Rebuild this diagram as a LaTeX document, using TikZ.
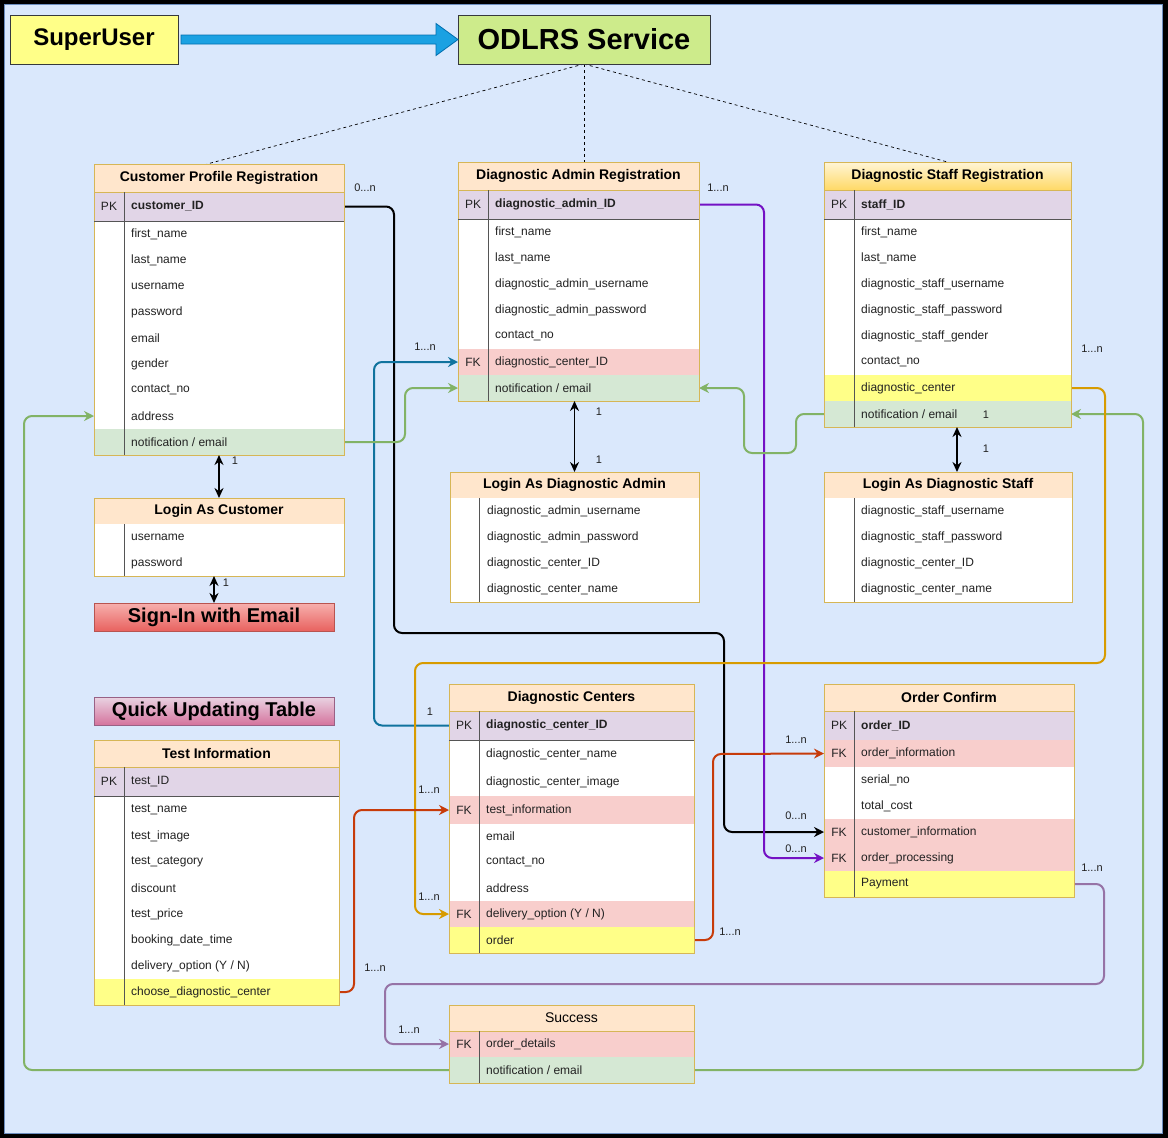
\documentclass[tikz,border=0pt]{standalone}
\usepackage{fontspec}
\setmainfont{Liberation Sans}
\usetikzlibrary{arrows.meta,calc}
\definecolor{bgblue}{HTML}{DAE8FC}
\definecolor{bgborder}{HTML}{6C8EBF}
\definecolor{ttlfill}{HTML}{FFE6CC}
\definecolor{tbcol}{HTML}{D6B656}
\definecolor{pkfill}{HTML}{E1D5E7}
\definecolor{fkfill}{HTML}{F8CECC}
\definecolor{grfill}{HTML}{D5E8D4}
\definecolor{yefill}{HTML}{FFFF88}
\definecolor{odfill}{HTML}{CDEB8B}
\definecolor{boxline}{HTML}{36393D}
\definecolor{cgreen}{HTML}{82B366}
\definecolor{cblue}{HTML}{10739E}
\definecolor{cpurple}{HTML}{7412C4}
\definecolor{corange}{HTML}{D79B00}
\definecolor{cred}{HTML}{C73B0A}
\definecolor{cmauve}{HTML}{9673A6}
\definecolor{bigblue}{HTML}{1BA1E2}
\definecolor{bigblueline}{HTML}{006EAF}
\definecolor{txtcol}{HTML}{222222}
\definecolor{divcol}{HTML}{555555}
\definecolor{sttop}{HTML}{FFF5D6}
\definecolor{stbot}{HTML}{FFD966}
\definecolor{sitop}{HTML}{F6B0AE}
\definecolor{sibot}{HTML}{E8625F}
\definecolor{siline}{HTML}{B85450}
\definecolor{qutop}{HTML}{E9D3E2}
\definecolor{qubot}{HTML}{D5739D}
\definecolor{quline}{HTML}{996185}
\pgfdeclarelayer{bg}
\pgfdeclarelayer{edges}
\pgfsetlayers{bg,edges,main}
\newcommand{\etitle}[7]{%
  \node[rowbox, minimum width=#3-#2, minimum height=#5-#4, font=\bfseries\fontsize{14}{16}\selectfont, #6] (#1) at (#2,#4) {#7};}
\newcommand{\erow}[8]{%
  \node[rowbox, fill=#6, minimum width=#3-#2, minimum height=#5-#4] (#1) at (#2,#4) {};
  \node[keytxt] (#1-k) at ([xshift=15pt]#1.west) {#7};
  \node[fldtxt] (#1-f) at ([xshift=37pt]#1.west) {#8};}
\tikzset{
  rowbox/.style={rectangle, inner sep=0pt, outer sep=0pt, draw=none, anchor=north west},
  keytxt/.style={font=\fontsize{12}{14}\selectfont, text=txtcol, inner sep=0pt},
  fldtxt/.style={font=\fontsize{12}{14}\selectfont, text=txtcol, inner sep=0pt, anchor=west},
  lbl/.style={font=\fontsize{11}{13}\selectfont, text=txtcol, inner sep=0pt},
  tbord/.style={draw=tbcol, line width=0.8pt},
  divl/.style={draw=divcol, line width=1pt},
  sepl/.style={draw=divcol, line width=0.8pt},
  conn/.style={line width=2pt, rounded corners=8pt},
  arr/.style={-{Stealth[length=10pt,width=10pt]}},
  dblarr/.style={{Stealth[length=10pt,width=9pt]}-{Stealth[length=10pt,width=9pt]}, line width=1.7pt, black},
  hbox/.style={rectangle, inner sep=0pt, outer sep=0pt, anchor=north west, font=\bfseries},
  dashl/.style={dash pattern=on 3pt off 3pt, line width=0.7pt, black},
}
\begin{document}
\begin{tikzpicture}[x=1pt,y=-1pt]
\useasboundingbox (0,0) rectangle (1168,1138);
\begin{pgfonlayer}{bg}
\fill[black] (0,0) rectangle (1168,1138);
\filldraw[fill=bgblue, draw=bgborder, line width=0.6pt] (4,4) rectangle (1162,1133);
\end{pgfonlayer}

% header boxes
\node[hbox, fill=yefill, draw=boxline, line width=0.8pt, minimum width=168, minimum height=49, font=\bfseries\fontsize{24}{28}\selectfont] (superu) at (10,15) {SuperUser};
\node[hbox, fill=odfill, draw=boxline, line width=0.8pt, minimum width=252, minimum height=49, font=\bfseries\fontsize{29}{33}\selectfont] (odlrs) at (458,15) {ODLRS Service};
\filldraw[fill=bigblue, draw=bigblueline, line width=0.8pt]
  ([xshift=3pt,yshift=-4.5pt]superu.east) -- ([xshift=-22pt,yshift=-4.5pt]odlrs.west)
  -- ([xshift=-22pt,yshift=-16pt]odlrs.west) -- (odlrs.west)
  -- ([xshift=-22pt,yshift=16pt]odlrs.west) -- ([xshift=-22pt,yshift=4.5pt]odlrs.west)
  -- ([xshift=3pt,yshift=4.5pt]superu.east) -- cycle;

% ---------- Customer Profile Registration
\etitle{cp}{94}{344}{164}{192}{fill=ttlfill}{Customer Profile Registration}
\erow{cp-pk}{94}{344}{192}{221}{pkfill}{PK}{\textbf{customer\_ID}}
\erow{cp-fn}{94}{344}{221}{247}{white}{}{first\_name}
\erow{cp-ln}{94}{344}{247}{273}{white}{}{last\_name}
\erow{cp-un}{94}{344}{273}{299}{white}{}{username}
\erow{cp-pw}{94}{344}{299}{325}{white}{}{password}
\erow{cp-em}{94}{344}{325}{351}{white}{}{email}
\erow{cp-ge}{94}{344}{351}{377}{white}{}{gender}
\erow{cp-co}{94}{344}{377}{403}{white}{}{contact\_no}
\erow{cp-ad}{94}{344}{403}{429}{white}{}{address}
\erow{cp-nt}{94}{344}{429}{455}{grfill}{}{notification / email}
\draw[tbord] (cp.north west) rectangle (cp-nt.south east);
\draw[tbord] (cp.south west) -- (cp.south east);
\draw[sepl] (cp-pk.south west) -- (cp-pk.south east);
\draw[divl] ([xshift=30pt]cp-pk.north west) -- ([xshift=30pt]cp-nt.south west);

% ---------- Diagnostic Admin Registration
\etitle{da}{458}{699}{162}{190}{fill=ttlfill}{Diagnostic Admin Registration}
\erow{da-pk}{458}{699}{190}{219}{pkfill}{PK}{\textbf{diagnostic\_admin\_ID}}
\erow{da-fn}{458}{699}{219}{245}{white}{}{first\_name}
\erow{da-ln}{458}{699}{245}{271}{white}{}{last\_name}
\erow{da-un}{458}{699}{271}{297}{white}{}{diagnostic\_admin\_username}
\erow{da-pw}{458}{699}{297}{323}{white}{}{diagnostic\_admin\_password}
\erow{da-co}{458}{699}{323}{349}{white}{}{contact\_no}
\erow{da-fk}{458}{699}{349}{375}{fkfill}{FK}{diagnostic\_center\_ID}
\erow{da-nt}{458}{699}{375}{401}{grfill}{}{notification / email}
\draw[tbord] (da.north west) rectangle (da-nt.south east);
\draw[tbord] (da.south west) -- (da.south east);
\draw[sepl] (da-pk.south west) -- (da-pk.south east);
\draw[divl] ([xshift=30pt]da-pk.north west) -- ([xshift=30pt]da-nt.south west);

% ---------- Diagnostic Staff Registration
\etitle{ds}{824}{1071}{162}{190}{top color=sttop, bottom color=stbot}{Diagnostic Staff Registration}
\erow{ds-pk}{824}{1071}{190}{219}{pkfill}{PK}{\textbf{staff\_ID}}
\erow{ds-fn}{824}{1071}{219}{245}{white}{}{first\_name}
\erow{ds-ln}{824}{1071}{245}{271}{white}{}{last\_name}
\erow{ds-un}{824}{1071}{271}{297}{white}{}{diagnostic\_staff\_username}
\erow{ds-pw}{824}{1071}{297}{323}{white}{}{diagnostic\_staff\_password}
\erow{ds-ge}{824}{1071}{323}{349}{white}{}{diagnostic\_staff\_gender}
\erow{ds-co}{824}{1071}{349}{375}{white}{}{contact\_no}
\erow{ds-dc}{824}{1071}{375}{401}{yefill}{}{diagnostic\_center}
\erow{ds-nt}{824}{1071}{401}{427}{grfill}{}{notification / email}
\draw[tbord] (ds.north west) rectangle (ds-nt.south east);
\draw[tbord] (ds.south west) -- (ds.south east);
\draw[sepl] (ds-pk.south west) -- (ds-pk.south east);
\draw[divl] ([xshift=30pt]ds-pk.north west) -- ([xshift=30pt]ds-nt.south west);

% ---------- Login As Customer
\etitle{lc}{94}{344}{498}{524}{fill=ttlfill}{Login As Customer}
\erow{lc-un}{94}{344}{524}{550}{white}{}{username}
\erow{lc-pw}{94}{344}{550}{576}{white}{}{password}
\draw[tbord] (lc.north west) rectangle (lc-pw.south east);
\draw[divl] ([xshift=30pt]lc-un.north west) -- ([xshift=30pt]lc-pw.south west);

% Sign-in and quick updating
\node[hbox, top color=sitop, bottom color=sibot, draw=siline, line width=0.8pt, minimum width=240, minimum height=28, font=\bfseries\fontsize{20}{24}\selectfont] (si) at (94,603) {Sign-In with Email};
\node[hbox, top color=qutop, bottom color=qubot, draw=quline, line width=0.8pt, minimum width=240, minimum height=28, font=\bfseries\fontsize{20}{24}\selectfont] (qu) at (94,697) {Quick Updating Table};

% ---------- Login As Diagnostic Admin
\etitle{la}{450}{699}{472}{498}{fill=ttlfill}{Login As Diagnostic Admin}
\erow{la-r1}{450}{699}{498}{524}{white}{}{diagnostic\_admin\_username}
\erow{la-r2}{450}{699}{524}{550}{white}{}{diagnostic\_admin\_password}
\erow{la-r3}{450}{699}{550}{576}{white}{}{diagnostic\_center\_ID}
\erow{la-r4}{450}{699}{576}{602}{white}{}{diagnostic\_center\_name}
\draw[tbord] (la.north west) rectangle (la-r4.south east);
\draw[divl] ([xshift=29pt]la-r1.north west) -- ([xshift=29pt]la-r4.south west);

% ---------- Login As Diagnostic Staff
\etitle{ls}{824}{1072}{472}{498}{fill=ttlfill}{Login As Diagnostic Staff}
\erow{ls-r1}{824}{1072}{498}{524}{white}{}{diagnostic\_staff\_username}
\erow{ls-r2}{824}{1072}{524}{550}{white}{}{diagnostic\_staff\_password}
\erow{ls-r3}{824}{1072}{550}{576}{white}{}{diagnostic\_center\_ID}
\erow{ls-r4}{824}{1072}{576}{602}{white}{}{diagnostic\_center\_name}
\draw[tbord] (ls.north west) rectangle (ls-r4.south east);
\draw[divl] ([xshift=30pt]ls-r1.north west) -- ([xshift=30pt]ls-r4.south west);

% ---------- Diagnostic Centers
\etitle{dc}{449}{694}{684}{711}{fill=ttlfill}{Diagnostic Centers}
\erow{dc-pk}{449}{694}{711}{740}{pkfill}{PK}{\textbf{diagnostic\_center\_ID}}
\erow{dc-nm}{449}{694}{740}{768}{white}{}{diagnostic\_center\_name}
\erow{dc-im}{449}{694}{768}{796}{white}{}{diagnostic\_center\_image}
\erow{dc-ti}{449}{694}{796}{824}{fkfill}{FK}{test\_information}
\erow{dc-em}{449}{694}{824}{849}{white}{}{email}
\erow{dc-co}{449}{694}{849}{875}{white}{}{contact\_no}
\erow{dc-ad}{449}{694}{875}{901}{white}{}{address}
\erow{dc-dl}{449}{694}{901}{927}{fkfill}{FK}{delivery\_option (Y / N)}
\erow{dc-or}{449}{694}{927}{953}{yefill}{}{order}
\draw[tbord] (dc.north west) rectangle (dc-or.south east);
\draw[tbord] (dc.south west) -- (dc.south east);
\draw[sepl] (dc-pk.south west) -- (dc-pk.south east);
\draw[divl] ([xshift=30pt]dc-pk.north west) -- ([xshift=30pt]dc-or.south west);

% ---------- Order Confirm
\etitle{oc}{824}{1074}{684}{711}{fill=ttlfill}{Order Confirm}
\erow{oc-pk}{824}{1074}{711}{740}{pkfill}{PK}{\textbf{order\_ID}}
\erow{oc-in}{824}{1074}{740}{767}{fkfill}{FK}{order\_information}
\erow{oc-sn}{824}{1074}{767}{793}{white}{}{serial\_no}
\erow{oc-tc}{824}{1074}{793}{819}{white}{}{total\_cost}
\erow{oc-ci}{824}{1074}{819}{845}{fkfill}{FK}{customer\_information}
\erow{oc-op}{824}{1074}{845}{871}{fkfill}{FK}{order\_processing}
\erow{oc-pay}{824}{1074}{871}{897}{yefill}{}{Payment}
\draw[tbord] (oc.north west) rectangle (oc-pay.south east);
\draw[tbord] (oc.south west) -- (oc.south east);
\draw[divl] ([xshift=30pt]oc-pk.north west) -- ([xshift=30pt]oc-pay.south west);

% ---------- Test Information
\etitle{ti}{94}{339}{740}{767}{fill=ttlfill}{Test Information}
\erow{ti-pk}{94}{339}{767}{796}{pkfill}{PK}{test\_ID}
\erow{ti-nm}{94}{339}{796}{823}{white}{}{test\_name}
\erow{ti-im}{94}{339}{823}{849}{white}{}{test\_image}
\erow{ti-ca}{94}{339}{849}{875}{white}{}{test\_category}
\erow{ti-di}{94}{339}{875}{901}{white}{}{discount}
\erow{ti-pr}{94}{339}{901}{927}{white}{}{test\_price}
\erow{ti-bk}{94}{339}{927}{953}{white}{}{booking\_date\_time}
\erow{ti-dl}{94}{339}{953}{979}{white}{}{delivery\_option (Y / N)}
\erow{ti-ch}{94}{339}{979}{1005}{yefill}{}{choose\_diagnostic\_center}
\draw[tbord] (ti.north west) rectangle (ti-ch.south east);
\draw[tbord] (ti.south west) -- (ti.south east);
\draw[sepl] (ti-pk.south west) -- (ti-pk.south east);
\draw[divl] ([xshift=30pt]ti-pk.north west) -- ([xshift=30pt]ti-ch.south west);

% ---------- Success
\etitle{sc}{449}{694}{1005}{1031}{fill=ttlfill, font=\fontsize{14}{16}\selectfont}{Success}
\erow{sc-od}{449}{694}{1031}{1057}{fkfill}{FK}{order\_details}
\erow{sc-nt}{449}{694}{1057}{1083}{grfill}{}{notification / email}
\draw[tbord] (sc.north west) rectangle (sc-nt.south east);
\draw[tbord] (sc.south west) -- (sc.south east);
\draw[divl] ([xshift=30pt]sc-od.north west) -- ([xshift=30pt]sc-nt.south west);

% ---------- connectors
\begin{pgfonlayer}{edges}
\draw[dashl] (odlrs.south) -- ([xshift=-12pt]cp.north);
\draw[dashl] (odlrs.south) -- (odlrs.south |- da.north);
\draw[dashl] (odlrs.south) -- (ds.north);
\draw[conn, black, arr] (cp-pk.east) -| (394,633) -| (724,832) -- (oc-ci.west);
\draw[conn, cpurple, arr] (da-pk.east) -| (764,858) -- (oc-op.west);
\draw[conn, cblue, arr] (dc-pk.west) -| (374,362) -- (da-fk.west);
\draw[conn, cgreen, arr] (cp-nt.east) -| (405,388) -- (da-nt.west);
\draw[conn, cgreen, arr] (ds-nt.west) -| (796,453) -| (744,388) -- (da-nt.east);
\draw[conn, cgreen, arr] (sc-nt.west) -| (24,416) -- (cp-ad.west);
\draw[conn, cgreen, arr] (sc-nt.east) -| (1143,414) -- (ds-nt.east);
\draw[conn, corange, arr] (ds-dc.east) -| (1105,663) -| (415,914) -- (dc-dl.west);
\draw[conn, cred, arr] (ti-ch.east) -| (354,810) -- (dc-ti.west);
\draw[conn, cred, arr] (dc-or.east) -| (713,754) -- (oc-in.west);
\draw[conn, cmauve, arr] (oc-pay.east) -| (1104,984) -| (385,1044) -- (sc-od.west);
\end{pgfonlayer}

% double arrows
\coordinate (stA) at ([xshift=9pt]ls.north);
\draw[dblarr] (cp-nt.south) -- (lc.north);
\draw[dblarr] (si.north |- lc-pw.south) -- (si.north);
\draw[dblarr] (la.north |- da-nt.south) -- (la.north);
\draw[dblarr] (stA |- ds-nt.south) -- (stA);

% multiplicity labels
\node[lbl] (m1) at (365,188) {0...n};
\node[lbl] (m2) at (718,188) {1...n};
\node[lbl] (m3) at (1092,349) {1...n};
\node[lbl] (m4) at (425,347) {1...n};
\node[lbl] (m5) at (235,461) {1};
\node[lbl] (m6) at (226,583) {1};
\node[lbl] (m7) at (599,412) {1};
\node[lbl] (m8) at (599,460) {1};
\node[lbl] (m9) at (986,415) {1};
\node[lbl] (m10) at (986,449) {1};
\node[lbl] (m11) at (430,712) {1};
\node[lbl] (m12) at (429,790) {1...n};
\node[lbl] (m13) at (429,897) {1...n};
\node[lbl] (m14) at (375,968) {1...n};
\node[lbl] (m15) at (730,932) {1...n};
\node[lbl] (m16) at (796,740) {1...n};
\node[lbl] (m17) at (796,816) {0...n};
\node[lbl] (m18) at (796,849) {0...n};
\node[lbl] (m19) at (1092,868) {1...n};
\node[lbl] (m20) at (409,1030) {1...n};
\end{tikzpicture}
\end{document}
